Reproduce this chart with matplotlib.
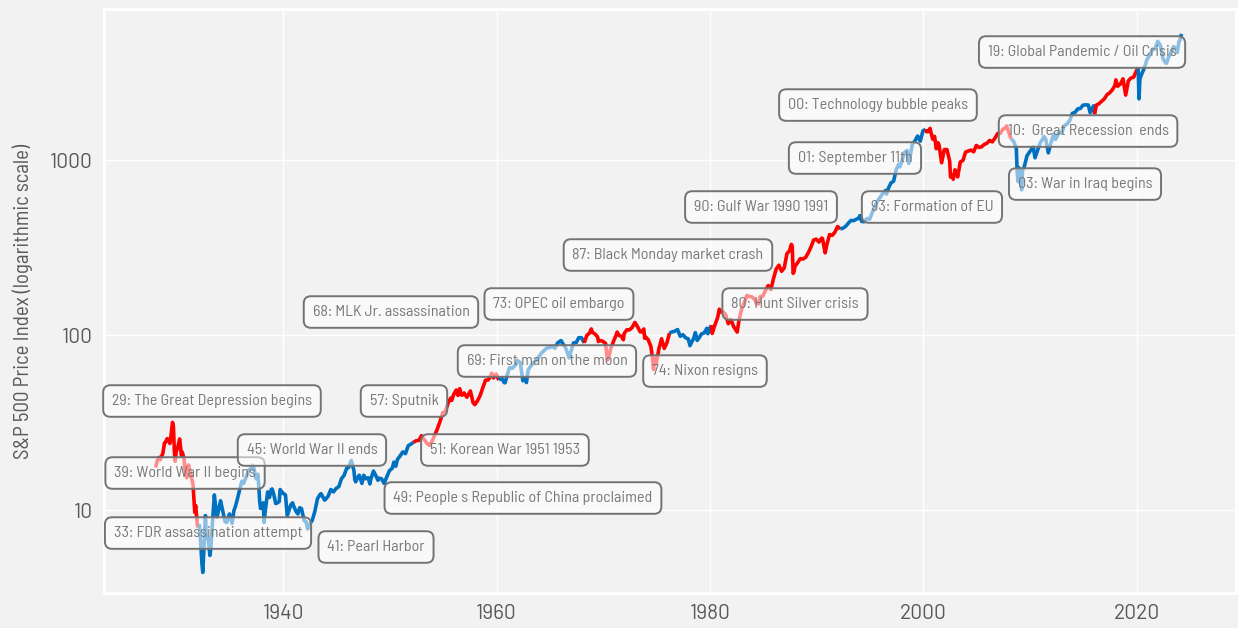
import matplotlib
matplotlib.use("Agg")
import matplotlib.pyplot as plt
import numpy as np

plt.rcParams['font.family'] = ['Barlow Semi Condensed', 'DejaVu Sans']

# S&P 500 (monthly closes, a few intramonth extremes)
months = [
    '1928-01', '1928-03', '1928-05', '1928-06', '1928-09', '1928-11', '1928-12',
    '1929-02', '1929-03', '1929-05', '1929-06', '1929-08', '1929-09', '1929-10', '1929-11', '1929-12',
    '1930-02', '1930-04', '1930-06', '1930-07', '1930-09', '1930-10', '1930-12',
    '1931-02', '1931-03', '1931-06', '1931-07', '1931-09', '1931-10', '1931-12',
    '1932-02', '1932-03', '1932-05', '1932-06', '1932-07', '1932-09', '1932-10', '1932-12',
    '1933-02', '1933-03', '1933-05', '1933-07', '1933-08', '1933-10', '1933-12',
    '1934-02', '1934-03', '1934-05', '1934-07', '1934-09', '1934-12',
    '1935-03', '1935-05', '1935-07', '1935-09', '1935-12',
    '1936-02', '1936-04', '1936-06', '1936-08', '1936-10', '1936-12',
    '1937-02', '1937-03', '1937-06', '1937-08', '1937-09', '1937-10', '1937-11', '1937-12',
    '1938-02', '1938-03', '1938-04', '1938-06', '1938-07', '1938-09', '1938-11', '1938-12',
    '1939-02', '1939-04', '1939-06', '1939-08', '1939-09', '1939-12',
    '1940-03', '1940-05', '1940-06', '1940-09', '1940-11', '1940-12',
    '1941-03', '1941-05', '1941-07', '1941-09', '1941-12',
    '1942-02', '1942-04', '1942-06', '1942-09', '1942-12',
    '1943-03', '1943-06', '1943-07', '1943-09', '1943-11', '1943-12',
    '1944-03', '1944-06', '1944-09', '1944-12',
    '1945-03', '1945-06', '1945-09', '1945-12',
    '1946-02', '1946-05', '1946-06', '1946-08', '1946-09', '1946-10', '1946-12',
    '1947-02', '1947-05', '1947-07', '1947-09', '1947-12',
    '1948-02', '1948-03', '1948-06', '1948-09', '1948-11', '1948-12',
    '1949-03', '1949-06', '1949-09', '1949-12',
    '1950-03', '1950-05', '1950-07', '1950-09', '1950-12',
    '1951-03', '1951-06', '1951-09', '1951-12',
    '1952-03', '1952-06', '1952-09', '1952-12',
    '1953-03', '1953-06', '1953-09', '1953-12',
    '1954-03', '1954-06', '1954-09', '1954-12',
    '1955-03', '1955-06', '1955-09', '1955-10', '1955-12',
    '1956-03', '1956-05', '1956-07', '1956-09', '1956-11', '1956-12',
    '1957-03', '1957-07', '1957-10', '1957-12',
    '1958-03', '1958-06', '1958-09', '1958-12',
    '1959-03', '1959-06', '1959-07', '1959-09', '1959-12',
    '1960-03', '1960-06', '1960-09', '1960-10', '1960-12',
    '1961-03', '1961-06', '1961-09', '1961-12',
    '1962-03', '1962-06', '1962-09', '1962-10', '1962-12',
    '1963-03', '1963-06', '1963-09', '1963-12',
    '1964-03', '1964-06', '1964-09', '1964-12',
    '1965-03', '1965-06', '1965-09', '1965-12',
    '1966-01', '1966-03', '1966-06', '1966-09', '1966-10', '1966-12',
    '1967-03', '1967-06', '1967-09', '1967-12',
    '1968-03', '1968-06', '1968-09', '1968-11', '1968-12',
    '1969-03', '1969-06', '1969-07', '1969-09', '1969-12',
    '1970-03', '1970-05', '1970-06', '1970-09', '1970-12',
    '1971-03', '1971-04', '1971-06', '1971-09', '1971-11', '1971-12',
    '1972-03', '1972-06', '1972-09', '1972-12',
    '1973-01', '1973-03', '1973-06', '1973-08', '1973-10', '1973-11', '1973-12',
    '1974-03', '1974-06', '1974-08', '1974-09', '1974-10', '1974-12',
    '1975-03', '1975-06', '1975-09', '1975-12',
    '1976-03', '1976-06', '1976-09', '1976-12',
    '1977-03', '1977-06', '1977-09', '1977-12',
    '1978-02', '1978-03', '1978-06', '1978-08', '1978-10', '1978-12',
    '1979-03', '1979-06', '1979-09', '1979-10', '1979-12',
    '1980-02', '1980-03', '1980-06', '1980-09', '1980-11', '1980-12',
    '1981-03', '1981-06', '1981-09', '1981-12',
    '1982-03', '1982-07', '1982-09', '1982-12',
    '1983-03', '1983-06', '1983-09', '1983-12',
    '1984-03', '1984-05', '1984-07', '1984-09', '1984-12',
    '1985-03', '1985-06', '1985-09', '1985-12',
    '1986-03', '1986-06', '1986-09', '1986-12',
    '1987-03', '1987-06', '1987-08', '1987-09', '1987-10', '1987-11', '1987-12',
    '1988-03', '1988-06', '1988-09', '1988-12',
    '1989-03', '1989-06', '1989-09', '1989-12',
    '1990-03', '1990-06', '1990-07', '1990-10', '1990-12',
    '1991-03', '1991-06', '1991-09', '1991-12',
    '1992-03', '1992-06', '1992-09', '1992-12',
    '1993-03', '1993-06', '1993-09', '1993-12',
    '1994-01', '1994-03', '1994-06', '1994-09', '1994-12',
    '1995-03', '1995-06', '1995-09', '1995-12',
    '1996-03', '1996-06', '1996-07', '1996-09', '1996-12',
    '1997-03', '1997-06', '1997-09', '1997-10', '1997-12',
    '1998-03', '1998-06', '1998-08', '1998-09', '1998-12',
    '1999-03', '1999-06', '1999-09', '1999-12',
    '2000-03', '2000-04', '2000-06', '2000-08', '2000-09', '2000-11', '2000-12',
    '2001-01', '2001-03', '2001-05', '2001-06', '2001-09', '2001-12',
    '2002-03', '2002-06', '2002-07', '2002-09', '2002-10', '2002-12',
    '2003-02', '2003-03', '2003-06', '2003-09', '2003-12',
    '2004-03', '2004-06', '2004-09', '2004-12',
    '2005-03', '2005-06', '2005-09', '2005-12',
    '2006-03', '2006-06', '2006-09', '2006-12',
    '2007-03', '2007-06', '2007-09', '2007-10', '2007-12',
    '2008-03', '2008-06', '2008-09', '2008-10', '2008-11', '2008-12',
    '2009-02', '2009-03', '2009-04', '2009-06', '2009-09', '2009-12',
    '2010-03', '2010-04', '2010-06', '2010-09', '2010-12',
    '2011-03', '2011-04', '2011-06', '2011-09', '2011-12',
    '2012-03', '2012-05', '2012-09', '2012-12',
    '2013-03', '2013-06', '2013-09', '2013-12',
    '2014-03', '2014-06', '2014-09', '2014-12',
    '2015-03', '2015-06', '2015-08', '2015-09', '2015-12',
    '2016-01', '2016-03', '2016-06', '2016-09', '2016-12',
    '2017-03', '2017-06', '2017-09', '2017-12',
    '2018-01', '2018-03', '2018-06', '2018-09', '2018-12',
    '2019-03', '2019-06', '2019-09', '2019-12',
    '2020-02', '2020-03', '2020-04', '2020-06', '2020-09', '2020-12',
    '2021-03', '2021-06', '2021-09', '2021-12',
    '2022-03', '2022-06', '2022-09', '2022-10', '2022-12',
    '2023-03', '2023-06', '2023-09', '2023-10', '2023-12',
    '2024-01', '2024-02', '2024-03',
]

prices = [
    17.5, 19.3, 20.0, 19.4, 21.0, 24.2, 24.4,
    25.6, 25.3, 24.0, 26.0, 31.7, 30.0, 21.9, 19.0, 21.4,
    23.0, 25.5, 20.5, 21.4, 19.5, 17.0, 15.3,
    18.1, 17.0, 14.8, 14.0, 9.7, 10.6, 8.1,
    8.3, 7.3, 5.0, 4.4, 5.6, 9.3, 6.9, 6.9,
    5.5, 6.0, 8.6, 12.2, 11.0, 9.1, 10.1,
    11.3, 10.7, 9.6, 8.6, 8.5, 9.5,
    8.4, 9.9, 10.6, 11.6, 13.4,
    14.6, 14.2, 15.1, 16.0, 17.0, 17.2,
    18.1, 17.7, 15.1, 16.0, 13.8, 11.2, 10.2, 10.6,
    11.0, 8.5, 9.6, 11.6, 12.7, 11.8, 13.1, 13.2,
    12.2, 10.9, 11.0, 11.2, 13.1, 12.5,
    12.2, 9.3, 9.6, 10.7, 11.0, 10.6,
    9.8, 9.5, 10.3, 10.2, 8.7,
    8.6, 7.8, 8.3, 8.7, 9.8,
    11.6, 12.3, 12.4, 11.9, 11.4, 11.5,
    12.0, 13.1, 12.7, 13.3,
    13.6, 15.1, 15.8, 17.4,
    17.5, 19.2, 18.4, 16.8, 14.9, 14.5, 15.3,
    15.8, 14.2, 15.8, 15.1, 15.3,
    14.1, 15.0, 16.7, 15.6, 14.8, 15.2,
    15.1, 14.2, 15.5, 16.8,
    17.3, 18.8, 17.8, 19.5, 20.4,
    21.5, 21.0, 23.3, 23.8,
    24.4, 24.9, 25.0, 26.6,
    25.3, 24.1, 23.4, 24.8,
    26.9, 29.2, 32.3, 36.0,
    36.6, 41.0, 43.7, 42.3, 45.5,
    48.5, 45.2, 49.4, 45.4, 45.6, 46.7,
    44.1, 47.9, 41.1, 40.0,
    42.1, 45.2, 50.1, 55.2,
    55.4, 58.5, 60.5, 56.9, 59.9,
    55.3, 56.9, 53.5, 53.4, 58.1,
    65.1, 64.6, 66.7, 71.6,
    69.6, 54.8, 56.3, 53.5, 63.1,
    66.6, 69.4, 71.7, 75.0,
    79.0, 81.7, 84.2, 84.8,
    86.2, 84.1, 90.0, 92.4,
    92.9, 89.2, 84.7, 77.0, 74.0, 80.3,
    90.2, 90.6, 96.7, 96.5,
    90.2, 99.6, 102.7, 108.4, 103.9,
    101.5, 97.7, 91.8, 93.1, 92.1,
    89.6, 72.0, 72.7, 84.2, 92.2,
    100.3, 104.0, 99.7, 98.3, 94.0, 102.1,
    107.2, 107.1, 110.6, 118.1,
    116.0, 111.5, 104.3, 104.3, 108.3, 96.0, 97.6,
    94.0, 86.0, 72.2, 63.5, 73.9, 68.6,
    83.4, 95.2, 83.9, 90.2,
    102.8, 104.3, 105.2, 107.5,
    98.4, 100.5, 96.5, 95.1,
    87.0, 89.2, 95.5, 103.3, 93.2, 96.1,
    101.6, 102.9, 109.3, 101.8, 107.9,
    113.7, 102.1, 114.2, 125.5, 140.5, 135.8,
    136.0, 131.2, 116.2, 122.6,
    112.0, 104.0, 120.4, 140.6,
    153.0, 168.1, 166.1, 164.9,
    159.2, 150.6, 150.7, 166.1, 167.2,
    180.7, 191.9, 182.1, 211.3,
    238.9, 250.8, 231.3, 242.2,
    291.7, 304.0, 329.8, 321.8, 225.0, 230.3, 247.1,
    258.9, 273.5, 271.9, 277.7,
    294.9, 318.0, 349.2, 353.4,
    339.9, 358.0, 356.2, 295.0, 330.2,
    375.2, 371.2, 387.9, 417.1,
    403.7, 408.1, 417.8, 435.7,
    451.7, 450.5, 458.9, 466.5,
    481.6, 445.8, 444.3, 462.7, 459.3,
    500.7, 544.8, 584.4, 615.9,
    645.5, 670.6, 639.9, 687.3, 740.7,
    757.1, 885.1, 947.3, 914.6, 970.4,
    1101.8, 1133.8, 957.3, 1017.0, 1229.2,
    1286.4, 1372.7, 1282.7, 1469.3,
    1498.6, 1452.4, 1454.6, 1517.7, 1436.5, 1315.2, 1320.3,
    1366.0, 1160.3, 1255.8, 1224.4, 965.0, 1148.1,
    1147.4, 989.8, 800.0, 815.3, 776.8, 879.8,
    841.2, 800.7, 974.5, 996.0, 1111.9,
    1126.2, 1140.8, 1114.6, 1211.9,
    1180.6, 1191.3, 1228.8, 1248.3,
    1294.8, 1270.2, 1335.9, 1418.3,
    1420.9, 1503.4, 1526.8, 1565.2, 1468.4,
    1322.7, 1280.0, 1166.4, 850.0, 752.4, 903.3,
    735.1, 676.5, 872.8, 919.3, 1057.1, 1115.1,
    1169.4, 1186.7, 1030.7, 1141.2, 1257.6,
    1325.8, 1363.6, 1320.6, 1099.2, 1257.6,
    1408.5, 1310.3, 1440.7, 1426.2,
    1569.2, 1606.3, 1681.6, 1848.4,
    1872.3, 1960.2, 1972.3, 2058.9,
    2067.9, 2063.1, 1867.6, 1920.0, 2043.9,
    1829.1, 2059.7, 2098.9, 2168.3, 2238.8,
    2362.7, 2423.4, 2519.4, 2673.6,
    2872.9, 2640.9, 2718.4, 2914.0, 2351.1,
    2834.4, 2941.8, 2976.7, 3230.8,
    3386.2, 2237.4, 2912.4, 3100.3, 3363.0, 3756.1,
    3972.9, 4297.5, 4307.5, 4766.2,
    4530.4, 3785.4, 3585.6, 3577.0, 3839.5,
    4109.3, 4450.4, 4288.1, 4117.4, 4769.8,
    4845.7, 5096.3, 5254.4,
]

# party of the election winner, from the election year on
election_years = [1928, 1932, 1952, 1960, 1968, 1976, 1980, 1992, 2000, 2008, 2016, 2020]
election_party = ['R', 'D', 'R', 'D', 'R', 'D', 'R', 'D', 'R', 'D', 'R', 'D']
party_colors = {'R': '#ff0000', 'D': '#0070c0'}

events = [
    '29: The Great Depression begins', '39: World War II begins', '33: FDR assassination attempt',
    '45: World War II ends', '41: Pearl Harbor', '57: Sputnik', '51: Korean War 1951 1953',
    '49: People s Republic of China proclaimed', '68: MLK Jr. assassination', '73: OPEC oil embargo',
    '69: First man on the moon', '74: Nixon resigns', '87: Black Monday market crash',
    '80: Hunt Silver crisis', '90: Gulf War 1990 1991', '93: Formation of EU', '01: September 11th',
    '00: Technology bubble peaks', '10:  Great Recession  ends', '03: War in Iraq begins',
    '19: Global Pandemic / Oil Crisis',
]
# label box centres, axes fraction
event_x = [0.0954, 0.0716, 0.0919, 0.1837, 0.2403, 0.2650, 0.3542, 0.3701, 0.2535, 0.4019,
           0.3913, 0.5309, 0.4982, 0.6104, 0.5804, 0.7314, 0.6634, 0.6837, 0.8693, 0.8666, 0.8640]
event_y = [0.3288, 0.2055, 0.1027, 0.2449, 0.0788, 0.3288, 0.2449, 0.1627, 0.4812, 0.4949,
           0.3973, 0.3801, 0.5788, 0.4949, 0.6610, 0.6610, 0.7449, 0.8356, 0.7911, 0.7003, 0.9264]

t = np.array([int(m[:4]) + (int(m[5:]) - 0.5) / 12 for m in months])
p = np.array(prices)
idx = np.searchsorted(election_years, t.astype(int), side='right') - 1
party = np.array([election_party[i] for i in idx])

bg = '#f2f2f2'
fig = plt.figure(figsize=(12.38, 6.28), dpi=100, facecolor=bg)
ax = fig.add_axes([0.084, 0.0557, 0.9144, 0.9299], facecolor=bg)

start = 0
for i in range(1, len(t) + 1):
    if i == len(t) or party[i] != party[start]:
        end = min(i + 1, len(t))
        ax.plot(t[start:end], p[start:end], color=party_colors[party[start]],
                lw=2.6, solid_capstyle='butt', zorder=2)
        start = i

for label, x, y in zip(events, event_x, event_y):
    ax.text(x, y, label, transform=ax.transAxes, ha='center', va='center',
            fontsize=11.5, color='#787878', zorder=5,
            bbox=dict(boxstyle='round,pad=0.55,rounding_size=0.45', facecolor=(1, 1, 1, 0.55),
                      edgecolor='#737373', linewidth=1.4))

ax.set_yscale('log')
ax.set_xlim(1923.2, 2029.3)
ax.set_ylim(3.356, 7295)
ax.set_yticks([10, 100, 1000])
ax.set_yticklabels(['10', '100', '1000'])
ax.yaxis.set_minor_locator(matplotlib.ticker.NullLocator())
ax.set_xticks([1940, 1960, 1980, 2000, 2020])
ax.tick_params(length=0, labelsize=15, labelcolor='#595959', pad=8)
for lab in ax.get_xticklabels() + ax.get_yticklabels():
    lab.set_family(['Barlow', 'DejaVu Sans'])
ax.grid(True, color='white', lw=1)
ax.set_axisbelow(True)
for s in ax.spines.values():
    s.set_color('white')
    s.set_linewidth(2)
ax.set_ylabel('S&P 500 Price Index (logarithmic scale)', fontsize=15, color='#595959', labelpad=12)

fig.savefig('out.png', dpi=100, facecolor=bg)
